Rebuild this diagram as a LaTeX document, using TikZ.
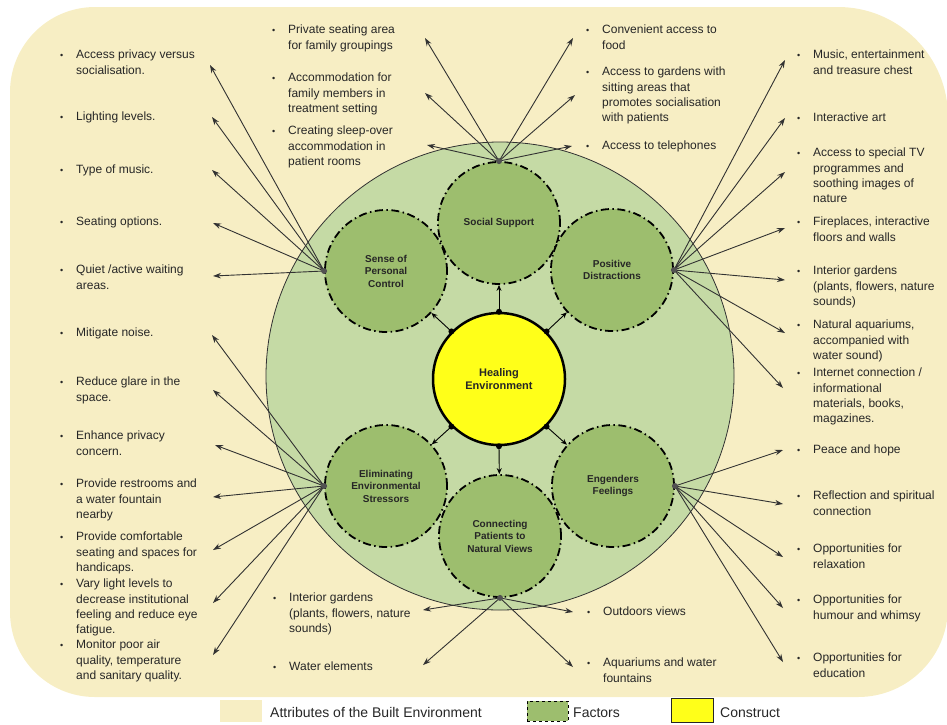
\documentclass[tikz,border=0pt]{standalone}
\usepackage{fontspec}
\setmainfont{Liberation Sans}
\usetikzlibrary{arrows.meta}
\definecolor{cream}{RGB}{247,238,196}
\definecolor{biggreen}{RGB}{197,218,165}
\definecolor{fgreen}{RGB}{157,190,110}
\definecolor{yel}{RGB}{255,255,25}
\definecolor{txt}{RGB}{38,38,38}
\definecolor{lin}{RGB}{50,50,50}
\newcommand\itembul{\llap{{\fontsize{9}{9}\selectfont •}\hspace{13pt}}}
\begin{document}
\begin{tikzpicture}[x=1pt,y=-1pt,
  arr/.style={draw=lin, line width=0.9pt, -{Stealth[length=8pt,width=5.5pt]}},
  sarr/.style={draw=black, line width=0.9pt, -{Stealth[length=6pt,width=5pt]}},
  bigc/.style={circle, draw=lin, line width=0.8pt, fill=biggreen, minimum size=468pt, inner sep=0pt},
  factor/.style={circle, draw=black, fill=fgreen, line width=1.8pt, dash pattern=on 8pt off 3.5pt on 1.5pt off 3.5pt, minimum size=122pt, inner sep=0pt, align=center, font=\fontsize{10}{12.5}\selectfont\bfseries, text=txt},
  core/.style={circle, draw=black, fill=yel, line width=2.5pt, minimum size=132pt, inner sep=0pt, align=center, font=\fontsize{11}{13}\selectfont\bfseries, text=txt},
  item/.style={anchor=north west, align=left, inner sep=0pt, font=\fontsize{12}{15.3}\selectfont, text=txt},
  hub/.style={circle, fill=lin!85, inner sep=0pt, minimum size=6pt},
  legtext/.style={anchor=base west, inner sep=0pt, font=\fontsize{14}{14}\selectfont, text=txt}
]
\useasboundingbox (0,0) rectangle (947,724);
% background
\fill[cream] (10,92) arc[start angle=180,end angle=90,radius=85pt] -- (838,7)
  arc[start angle=90,end angle=0,radius=110pt] -- (948,607)
  arc[start angle=0,end angle=-90,radius=90pt] -- (95,697)
  arc[start angle=270,end angle=180,radius=85pt] -- cycle;
% circles
\node[bigc] (big) at (500,376) {};
\node[factor] (ss) at (499,223) {Social Support};
\node[factor] (spc) at (386,271) {Sense of\\Personal\\Control};
\node[factor] (pd) at (612,270) {Positive\\Distractions};
\node[factor] (ees) at (386,486) {Eliminating\\Environmental\\Stressors};
\node[factor] (cp) at (500,536) {Connecting\\Patients to\\Natural Views};
\node[factor] (ef) at (613,486) {Engenders\\Feelings};
\node[core] (he) at (499,379) {Healing\\Environment};
\foreach \a/\t in {90/ss,135/spc,45/pd,225/ees,270/cp,315/ef}{
  \draw[sarr] (he.\a) -- (\t);
  \fill[black] (he.\a) circle[radius=3pt];
}
% hubs
\coordinate (hSS) at (ss.north);
\coordinate (hSPC) at (spc.west);
\coordinate (hPD) at (pd.east);
\coordinate (hEES) at (ees.west);
\coordinate (hCP) at (cp.south);
\coordinate (hEF) at (ef.east);
% tips
\coordinate (tL1) at (210,65);
\coordinate (tL2) at (212,117);
\coordinate (tL3) at (212,170);
\coordinate (tL4) at (213,223);
\coordinate (tL5) at (213,276);
\coordinate (tL6) at (212,335);
\coordinate (tL7) at (213,390);
\coordinate (tL8) at (215,445);
\coordinate (tL9) at (213,497);
\coordinate (tL10) at (213,550);
\coordinate (tL11) at (213,603);
\coordinate (tL12) at (213,655);
\coordinate (tT1) at (425,38);
\coordinate (tT2) at (425,93);
\coordinate (tT3) at (427,145);
\coordinate (tT4) at (573,38);
\coordinate (tT5) at (575,95);
\coordinate (tT6) at (572,146);
\coordinate (tR1) at (785,60);
\coordinate (tR2) at (785,118);
\coordinate (tR3) at (785,172);
\coordinate (tR4) at (785,228);
\coordinate (tR5) at (785,280);
\coordinate (tR6) at (785,333);
\coordinate (tR7) at (783,388);
\coordinate (tE1) at (783,450);
\coordinate (tE2) at (783,504);
\coordinate (tE3) at (783,557);
\coordinate (tE4) at (783,608);
\coordinate (tE5) at (783,662);
\coordinate (tB1) at (423,610);
\coordinate (tB2) at (423,665);
\coordinate (tB3) at (573,612);
\coordinate (tB4) at (573,667);
% connectors
\foreach \t in {tL1,tL2,tL3,tL4,tL5} \draw[arr] (hSPC) -- (\t);
\foreach \t in {tL6,tL7,tL8,tL9,tL10,tL11,tL12} \draw[arr] (hEES) -- (\t);
\foreach \t in {tT1,tT2,tT3,tT4,tT5,tT6} \draw[arr] (hSS) -- (\t);
\foreach \t in {tR1,tR2,tR3,tR4,tR5,tR6,tR7} \draw[arr] (hPD) -- (\t);
\foreach \t in {tE1,tE2,tE3,tE4,tE5} \draw[arr] (hEF) -- (\t);
\foreach \t in {tB1,tB2,tB3,tB4} \draw[arr] (hCP) -- (\t);
\node[hub] (dSS) at (hSS) {};
\node[hub] (dSPC) at (hSPC) {};
\node[hub] (dPD) at (hPD) {};
\node[hub] (dEES) at (hEES) {};
\node[hub] (dCP) at (hCP) {};
\node[hub] (dEF) at (hEF) {};
% left texts
\node[item] (iL1) at (76,50) {\itembul Access privacy versus\\socialisation.};
\node[item] (iL2) at (76,112) {\itembul Lighting levels.};
\node[item] (iL3) at (76,165) {\itembul Type of music.};
\node[item] (iL4) at (76,217) {\itembul Seating options.};
\node[item] (iL5) at (76,265) {\itembul Quiet /active waiting\\areas.};
\node[item] (iL6) at (76,328) {\itembul Mitigate noise.};
\node[item] (iL7) at (76,377) {\itembul Reduce glare in the\\space.};
\node[item] (iL8) at (76,431) {\itembul Enhance privacy\\concern.};
\node[item] (iL9) at (76,479) {\itembul Provide restrooms and\\a water fountain\\nearby};
\node[item] (iL10) at (76,532) {\itembul Provide comfortable\\seating and spaces for\\handicaps.};
\node[item] (iL11) at (76,579) {\itembul Vary light levels to\\decrease institutional\\feeling and reduce eye\\fatigue.};
\node[item] (iL12) at (76,640) {\itembul Monitor poor air\\quality, temperature\\and sanitary quality.};
% top texts
\node[item] (iT1) at (288,25) {\itembul Private seating area\\for family groupings};
\node[item] (iT2) at (288,73) {\itembul Accommodation for\\family members in\\treatment setting};
\node[item] (iT3) at (288,126) {\itembul Creating sleep-over\\accommodation in\\patient rooms};
\node[item] (iT4) at (602,25) {\itembul Convenient access to\\food};
\node[item] (iT5) at (602,67) {\itembul Access to gardens with\\sitting areas that\\promotes socialisation\\with patients};
\node[item] (iT6) at (602,141) {\itembul Access to telephones};
% right texts
\node[item] (iR1) at (813,50) {\itembul Music, entertainment\\and treasure chest};
\node[item] (iR2) at (813,113) {\itembul Interactive art};
\node[item] (iR3) at (813,148) {\itembul Access to special TV\\programmes and\\soothing images of\\nature};
\node[item] (iR4) at (813,217) {\itembul Fireplaces, interactive\\floors and walls};
\node[item] (iR5) at (813,266) {\itembul Interior gardens\\(plants, flowers, nature\\sounds)};
\node[item] (iR6) at (813,320) {\itembul Natural aquariums,\\accompanied with\\water sound)};
\node[item] (iR7) at (813,368) {\itembul Internet connection /\\informational\\materials, books,\\magazines.};
\node[item] (iE1) at (813,445) {\itembul Peace and hope};
\node[item] (iE2) at (813,491) {\itembul Reflection and spiritual\\connection};
\node[item] (iE3) at (813,544) {\itembul Opportunities for\\relaxation};
\node[item] (iE4) at (813,595) {\itembul Opportunities for\\humour and whimsy};
\node[item] (iE5) at (813,653) {\itembul Opportunities for\\education};
% bottom texts
\node[item] (iB1) at (289,593) {\itembul Interior gardens\\(plants, flowers, nature\\sounds)};
\node[item] (iB2) at (289,662) {\itembul Water elements};
\node[item] (iB3) at (603,607) {\itembul Outdoors views};
\node[item] (iB4) at (603,658) {\itembul Aquariums and water\\fountains};
% legend
\node[fill=cream, minimum width=42pt, minimum height=22pt, inner sep=0pt] (lgA) at (241,711) {};
\node[legtext] (lgAt) at (270,717) {Attributes of the Built Environment};
\node[fill=fgreen, draw=black, dashed, line width=1pt, minimum width=41pt, minimum height=20pt, inner sep=0pt] (lgF) at (547.5,711) {};
\node[legtext] (lgFt) at (573,717) {Factors};
\node[fill=yel, draw=black!85, line width=1pt, minimum width=42pt, minimum height=24pt, inner sep=0pt] (lgC) at (692,710) {};
\node[legtext] (lgCt) at (720,717) {Construct};
\end{tikzpicture}
\end{document}
